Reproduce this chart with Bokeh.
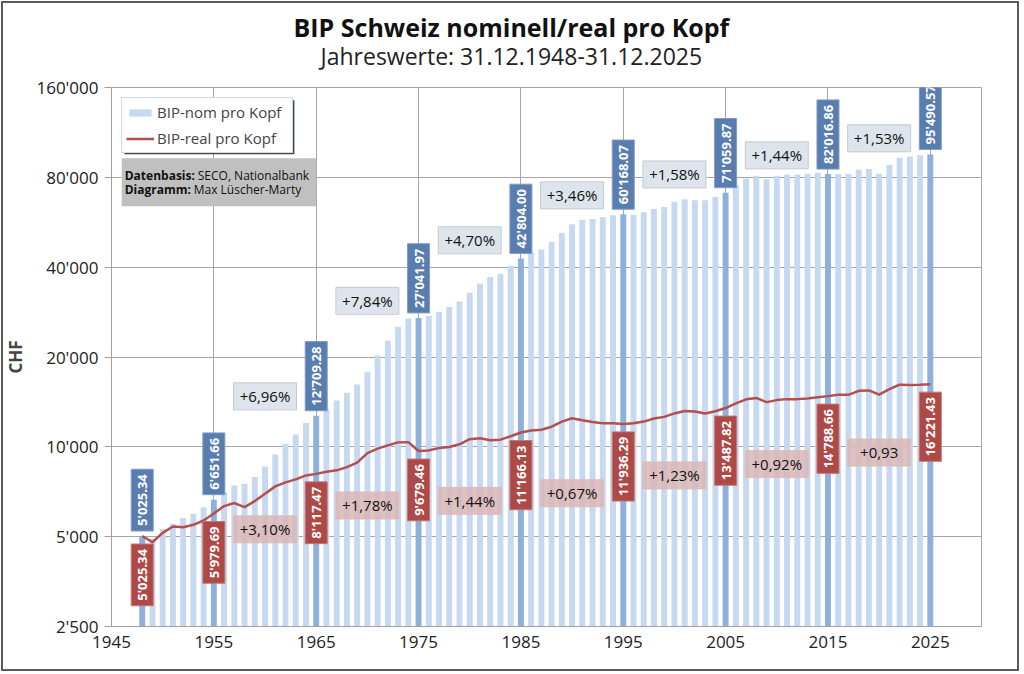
from math import pi

from bokeh.plotting import figure
from bokeh.models import (ColumnDataSource, FixedTicker, Label, BoxAnnotation,
                          Legend, LegendItem, Title, InlineStyleSheet)
from bokeh.core.properties import value
from bokeh.embed import file_html
from bokeh.resources import INLINE

FONT = "Open Sans"

# data (CHF per capita)
years = list(range(1948, 2026))
nominal = [5025.34, 4920, 5300, 5520, 5770, 5970, 6280, 6651.66, 7050, 7420,
           7520, 7920, 8600, 9430, 10240, 11000, 12010, 12709.28, 13420, 14300,
           15180, 16190, 17850, 20250, 22730, 25200, 26900, 27041.97, 27430, 28280,
           29400, 30720, 32860, 35200, 37070, 38030, 40450, 42804.00, 44700, 45880,
           48530, 52020, 55750, 57680, 57980, 58750, 59670, 60168.07, 59900, 61070,
           62650, 63600, 66300, 67500, 67000, 67000, 68700, 71059.87, 75200, 79200,
           81000, 78900, 81000, 81700, 81700, 82300, 82950, 82016.86, 82100, 82100,
           84900, 85300, 82300, 87980, 93100, 93900, 94800, 95490.57]
real = [5025.34, 4790, 5150, 5410, 5380, 5480, 5665, 5979.69, 6330, 6480,
        6280, 6580, 6960, 7370, 7600, 7780, 8020, 8117.47, 8250, 8340,
        8550, 8850, 9530, 9860, 10110, 10350, 10370, 9679.46, 9730, 9910,
        9990, 10200, 10610, 10690, 10520, 10570, 10850, 11166.13, 11350, 11410,
        11680, 12150, 12470, 12270, 12110, 12000, 12000, 11936.29, 11990, 12150,
        12440, 12600, 12940, 13180, 13140, 12930, 13160, 13487.82, 13990, 14430,
        14580, 14120, 14340, 14450, 14450, 14520, 14670, 14788.66, 14940, 14940,
        15410, 15450, 14960, 15600, 16150, 16120, 16150, 16221.43]
marked_years = [1948, 1955, 1965, 1975, 1985, 1995, 2005, 2015, 2025]

growth_years = [1960, 1970, 1980, 1990, 2000, 2010, 2020]
nom_growth_text = ["+6,96%", "+7,84%", "+4,70%", "+3,46%", "+1,58%", "+1,44%", "+1,53%"]
nom_growth_level = [14760, 30850, 49200, 69600, 81800, 94800, 108100]
real_growth_text = ["+3,10%", "+1,78%", "+1,44%", "+0,67%", "+1,23%", "+0,92%", "+0,93"]
real_growth_level = [5290, 6360, 6595, 6985, 8020, 8750, 9570]

y_ticks = [2500, 5000, 10000, 20000, 40000, 80000, 160000]
x_ticks = list(range(1945, 2026, 10))


def chf(v, dec=2):
    return "{:,.{}f}".format(v, dec).replace(",", "'")


idx = [years.index(y) for y in marked_years]
marks = ColumnDataSource(data=dict(
    x=marked_years,
    nom=[nominal[i] for i in idx],
    real=[real[i] for i in idx],
    nom_txt=[chf(nominal[i]) for i in idx],
    real_txt=[chf(real[i]) for i in idx],
))
other = [i for i in range(len(years)) if years[i] not in marked_years]
bars = ColumnDataSource(data=dict(x=[years[i] for i in other], top=[nominal[i] for i in other]))
nom_growth = ColumnDataSource(data=dict(x=growth_years, y=nom_growth_level, t=nom_growth_text))
real_growth = ColumnDataSource(data=dict(x=growth_years, y=real_growth_level, t=real_growth_text))

p = figure(width=1008, height=658, y_axis_type="log", title=None,
           x_range=(1945, 2030), y_range=(y_ticks[0], y_ticks[-1]),
           output_backend="svg", toolbar_location=None,
           min_border_left=111, min_border_right=27, min_border_top=87, min_border_bottom=32)
p.stylesheets = [InlineStyleSheet(css=":host::after { content: ''; position: absolute; "
                                      "left: 1px; top: 1px; right: -11px; bottom: -13px; "
                                      "border: 2px solid #5a5a5a; pointer-events: none; z-index: 50; }")]
p.outline_line_color = "#a6a6a6"

# titles (white spacer first, so the subtitle sits a little above the frame)
p.add_layout(Title(text=".", text_font_size="4px", text_color="white", standoff=11), "above")
p.add_layout(Title(text="Jahreswerte: 31.12.1948-31.12.2025", align="left", offset=209,
                   text_font=FONT, text_font_size="23px", text_font_style="normal",
                   text_color="#222222", standoff=0), "above")
p.add_layout(Title(text="BIP Schweiz nominell/real pro Kopf", align="left", offset=182,
                   text_font=FONT, text_font_size="25px", text_font_style="bold",
                   text_color="#111111", standoff=-12), "above")

# axes
p.xaxis.ticker = FixedTicker(ticks=x_ticks)
p.yaxis.ticker = FixedTicker(ticks=y_ticks)
p.yaxis.major_label_overrides = {t: chf(t, 0) for t in y_ticks}
for ax in (p.xaxis[0], p.yaxis[0]):
    ax.axis_line_color = "#a0a0a0"
    ax.major_tick_line_color = "#a0a0a0"
    ax.minor_tick_line_color = None
    ax.major_label_text_font = FONT
    ax.major_label_text_font_size = "17px"
    ax.major_label_text_color = "#222222"
p.xaxis.major_tick_out = 0
p.xaxis.major_tick_in = 0
p.xaxis.major_label_standoff = 9
p.yaxis.major_tick_out = 7
p.yaxis.major_tick_in = 0
p.yaxis.major_label_standoff = 6
p.yaxis.axis_label = "CHF"
p.yaxis.axis_label_text_font = FONT
p.yaxis.axis_label_text_font_style = "bold"
p.yaxis.axis_label_text_font_size = "17px"
p.yaxis.axis_label_standoff = 6
p.grid.grid_line_color = "#a6a6a6"

# bars and line
r_bars = p.vbar(x="x", top="top", bottom=y_ticks[0], width=0.58, source=bars,
                fill_color="#c6d9f1", line_color=None)
p.vbar(x="x", top="nom", bottom=y_ticks[0], width=0.58, source=marks,
       fill_color="#8db1dc", line_color=None)
r_line = p.line(years, real, line_color="#b34f4c", line_width=2.5)

# decade growth boxes
p.rect(x="x", y="y", width=63, height=27, width_units="screen", height_units="screen",
       source=nom_growth, fill_color="#dde4ec", line_color="#c2cad4")
p.text(x="x", y="y", text="t", source=nom_growth, text_align="center", text_baseline="middle",
       text_font=value(FONT), text_font_size="15px", text_color="#111111")
p.rect(x="x", y="y", width=63, height=27, width_units="screen", height_units="screen",
       source=real_growth, fill_color="#d9b6b6", fill_alpha=0.85, line_color="#dcbcbc")
p.text(x="x", y="y", text="t", source=real_growth, text_align="center", text_baseline="middle",
       text_font=value(FONT), text_font_size="15px", text_color="#111111")

# value boxes on the marked years
p.text(x="x", y="nom", text="nom_txt", source=marks, angle=pi / 2, text_align="left",
       text_baseline="middle", y_offset=-5, text_font=value(FONT), text_font_size="13px",
       text_font_style="bold", text_color="white", background_fill_color="#5a7db0",
       border_line_color="#7d9cc6", padding=(5, 2))
p.text(x="x", y="real", text="real_txt", source=marks, angle=pi / 2, text_align="right",
       text_baseline="middle", y_offset=8, text_font=value(FONT), text_font_size="13px",
       text_font_style="bold", text_color="white", background_fill_color="#ad4a48",
       border_line_color="#c77472", padding=(5, 2))

# legend with a small drop shadow
p.add_layout(BoxAnnotation(left=1946.27, right=1962.87, bottom=95550, top=144950,
                           fill_color="#333333", fill_alpha=0.9, line_color=None))
legend = Legend(items=[LegendItem(label="BIP-nom pro Kopf", renderers=[r_bars]),
                       LegendItem(label="BIP-real pro Kopf", renderers=[r_line])],
                location="top_left", margin=10, padding=4, spacing=6,
                glyph_width=28, glyph_height=9, label_height=20, label_width=131,
                label_standoff=3, label_text_font=FONT, label_text_font_size="15px",
                border_line_color="#9fb4d4", background_fill_alpha=1)
p.add_layout(legend)

# source box
p.add_layout(BoxAnnotation(left=1946, right=1965, bottom=63950, top=92650,
                           fill_color="#c0c0c0", fill_alpha=1, line_color=None))
for y, bold, rest, off in [(81250, "Datenbasis:", "SECO, Nationalbank", 76),
                           (72900, "Diagramm:", "Max Lüscher-Marty", 72)]:
    p.add_layout(Label(x=1946, y=y, x_offset=3, text=bold, text_font=FONT, text_font_size="12px",
                       text_font_style="bold", text_baseline="middle", text_color="#111111"))
    p.add_layout(Label(x=1946, y=y, x_offset=off, text=rest, text_font=FONT, text_font_size="12px",
                       text_baseline="middle", text_color="#111111"))

open("out.html", "w").write(file_html(p, INLINE))
